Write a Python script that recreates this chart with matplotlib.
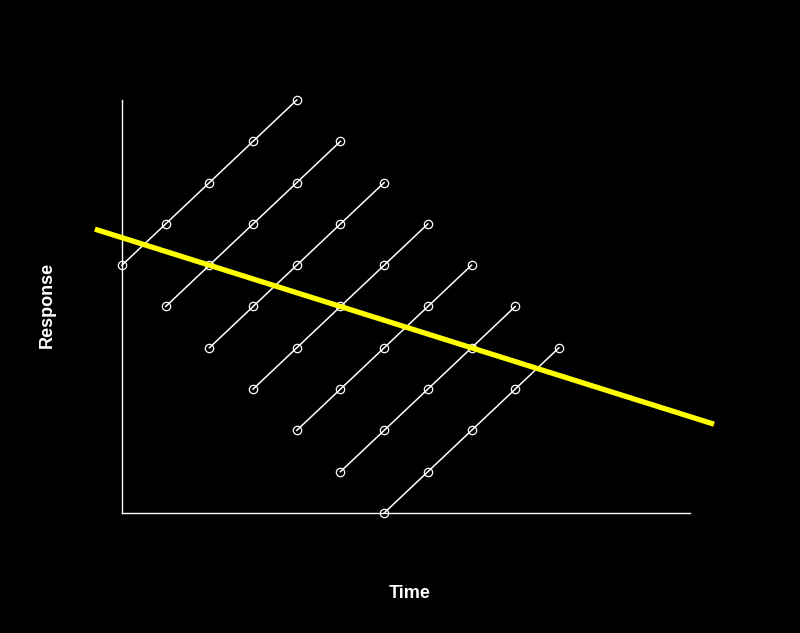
import numpy as np
import matplotlib.pyplot as plt

# %% data: seven subjects, five time points each
start_times = [0, 1, 2, 3, 4, 5, 6]
start_responses = [6, 5, 4, 3, 2, 1, 0]
steps = [0, 1, 2, 3, 4]
fit_range = [-0.62, 13.55]

# %% figure
fig = plt.figure(figsize=(8, 6.33), dpi=100, facecolor="black")
ax = fig.add_axes([0.1525, 0.1896, 0.71, 0.6524])
ax.set_facecolor("black")

all_x = []
all_y = []
for t0, r0 in zip(start_times, start_responses):
    xs = [t0 + s for s in steps]
    ys = [r0 + s for s in steps]
    all_x += xs
    all_y += ys
    ax.plot(xs, ys, color="white", lw=1.1, clip_on=False, zorder=2)
    ax.plot(xs, ys, "o", ms=6, mfc="none", mec="white", mew=0.9, clip_on=False, zorder=3)

# pooled fit over all points
slope, icept = np.polyfit(all_x, all_y, 1)
fx = np.array(fit_range)
ax.plot(fx, icept + slope * fx, color="#ffff00", lw=3.8, solid_capstyle="butt",
        clip_on=False, zorder=4)

ax.set_xlim(0, 13)
ax.set_ylim(0, 10)
ax.set_xticks([])
ax.set_yticks([])
for side in ["top", "right"]:
    ax.spines[side].set_visible(False)
for side in ["left", "bottom"]:
    ax.spines[side].set_color("white")
    ax.spines[side].set_linewidth(1.0)

fig.text(410 / 800, 1 - 593 / 633, "Time", color="white", fontsize=13,
         fontweight="bold", family="Liberation Sans", ha="center", va="center")
fig.text(47 / 800, 1 - 305 / 633, "Response", color="white", fontsize=13,
         fontweight="bold", family="Liberation Sans", ha="center", va="center",
         rotation=90)

fig.savefig("out.png", dpi=100, facecolor="black")
